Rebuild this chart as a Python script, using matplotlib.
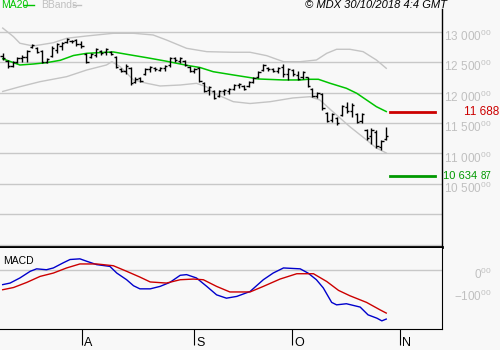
import numpy as np
import matplotlib.pyplot as plt
from matplotlib import rcParams, transforms
from matplotlib.lines import Line2D

rcParams['font.family'] = ['Liberation Sans', 'DejaVu Sans']

# daily bars (index 0 = first visible session)
bar_high = [12650, 12535, 12519, 12584, 12617, 12700, 12798, 12749, 12700, 12568,
            12765, 12815, 12831, 12897, 12864, 12880, 12847, 12650, 12650, 12732,
            12700, 12732, 12683, 12601, 12404, 12469, 12420, 12256, 12256, 12404,
            12437, 12420, 12420, 12453, 12584, 12584, 12584, 12535, 12437, 12404,
            12420, 12174, 12108, 12042, 12042, 12059, 12075, 12141, 12157, 12124,
            12190, 12256, 12354, 12469, 12420, 12404, 12420, 12469, 12404, 12387,
            12354, 12354, 12256, 12075, 12009, 11993, 11681, 11664, 11599, 11796,
            11845, 11829, 11664, 11664, 11401, 11418, 11385, 11221, 11434]
bar_low = [12535, 12404, 12420, 12486, 12502, 12502, 12732, 12650, 12486, 12486,
           12584, 12650, 12700, 12815, 12815, 12765, 12732, 12486, 12568, 12584,
           12617, 12617, 12617, 12404, 12338, 12305, 12124, 12157, 12174, 12289,
           12338, 12354, 12354, 12354, 12420, 12502, 12486, 12437, 12338, 12322,
           12174, 12009, 11960, 11894, 11927, 11960, 11977, 12042, 12075, 12042,
           12092, 12157, 12239, 12354, 12354, 12338, 12322, 12256, 12207, 12272,
           12207, 12223, 12092, 11927, 11911, 11714, 11517, 11517, 11467, 11615,
           11664, 11599, 11500, 11500, 11221, 11155, 11089, 11057, 11221]
bar_open = [12600, 12520, 12440, 12500, 12560, 12590, 12750, 12730, 12680, 12500,
            12600, 12700, 12760, 12830, 12850, 12860, 12800, 12640, 12580, 12620,
            12690, 12660, 12670, 12590, 12390, 12350, 12400, 12180, 12240, 12300,
            12380, 12400, 12370, 12400, 12450, 12560, 12520, 12520, 12420, 12360,
            12400, 12150, 12040, 12030, 11940, 12020, 12030, 12060, 12120, 12110,
            12100, 12180, 12250, 12370, 12410, 12380, 12350, 12420, 12300, 12370,
            12290, 12260, 12250, 12060, 11950, 11980, 11660, 11550, 11580, 11630,
            11760, 11690, 11640, 11530, 11390, 11280, 11360, 11110, 11240]
bar_close = [12560, 12430, 12500, 12560, 12590, 12690, 12780, 12670, 12500, 12550,
             12740, 12800, 12820, 12880, 12840, 12790, 12760, 12500, 12630, 12710,
             12650, 12720, 12640, 12420, 12360, 12440, 12150, 12230, 12190, 12390,
             12420, 12380, 12400, 12440, 12570, 12530, 12570, 12460, 12360, 12390,
             12190, 12030, 12090, 11910, 12020, 12040, 12060, 12130, 12140, 12060,
             12170, 12240, 12340, 12450, 12380, 12360, 12400, 12300, 12390, 12300,
             12230, 12330, 12110, 11950, 11990, 11740, 11540, 11640, 11500, 11780,
             11700, 11800, 11520, 11640, 11260, 11380, 11120, 11200, 11290]

# MA20 and Bollinger bands
ma20_x = [0, 3.5, 6.2, 8.9, 11.7, 14.4, 17.1, 21.1, 22.5, 25.2, 29.3, 33.3, 37.4, 40.1,
          42.8, 46.9, 49.9, 52, 57.1, 60.5, 62.1, 64.2, 66.6, 69.9, 72, 74, 76, 78]
ma20_v = [12555, 12453, 12469, 12491, 12530, 12609, 12645, 12662, 12667, 12629, 12573,
          12515, 12448, 12412, 12343, 12289, 12251, 12223, 12207, 12207, 12218, 12218,
          12152, 12070, 11988, 11878, 11768, 11688]
upper_x = [0, 2.2, 3.5, 6.2, 10.3, 13, 17.1, 22.5, 26.6, 30.6, 33.3, 37.4, 41.5, 46.9,
           50.3, 53.7, 57.1, 60.5, 63.8, 65.9, 67.9, 70.6, 73.3, 76, 78]
upper_v = [13060, 12918, 12810, 12765, 12819, 12892, 12930, 12974, 12974, 12946, 12864,
           12727, 12672, 12662, 12662, 12606, 12507, 12507, 12535, 12645, 12711, 12711,
           12672, 12535, 12399]
lower_x = [0, 3.5, 7.6, 13, 17.1, 21.1, 22.2, 23.9, 26.6, 29.3, 32, 36.1, 39.4, 41.5,
           42.8, 46.9, 50.3, 54.4, 59, 62.5, 64.5, 67.2, 70.6, 74, 76, 78]
lower_v = [12018, 12096, 12179, 12261, 12371, 12453, 12507, 12425, 12207, 12152, 12108,
           12124, 12152, 12092, 11993, 11850, 11820, 11850, 11911, 11932, 11878, 11681,
           11439, 11221, 11089, 11007]

# MACD / signal
macd_x = [0, 1.5, 3.5, 5.6, 6.9, 8.9, 10.3, 12.3, 13.7, 15.7, 17.1, 19.1, 21.8, 23.2,
          25.2, 26.6, 27.9, 30, 32, 34, 36.1, 37.4, 39.4, 41.5, 43.5, 45.5, 47.6, 50.3,
          53, 55, 57.1, 60.5, 62.1, 63.8, 65.2, 66.9, 67.9, 69.9, 72.7, 74.3, 76.1, 77.1, 78]
macd_v = [-66, -59, -36, -6, 5, 1, 9, 32, 47, 50, 39, 24, 16, -14, -44, -71, -85, -85,
          -74, -56, -24, -21, -36, -74, -112, -127, -119, -97, -44, -14, 9, 5, -14, -44,
          -81, -146, -157, -152, -167, -202, -217, -229, -221]
signal_x = [0, 2.2, 4.9, 7.6, 10.3, 13, 15.7, 19.1, 22.5, 25.2, 27.9, 30, 33.3, 36.1,
            38.8, 40.8, 43.5, 46.2, 50.3, 53, 56.4, 59.8, 63.2, 65.9, 68.3, 70.6, 74, 76.7, 78]
signal_v = [-89, -79, -56, -29, -14, 9, 27, 27, 19, -6, -32, -54, -59, -44, -41, -44,
            -74, -99, -99, -74, -41, -17, -17, -52, -92, -116, -146, -179, -194]

month_pos = [16.1, 39.0, 58.9, 80.8]
month_lab = ['A', 'S', 'O', 'N']
price_ticks = [13000, 12500, 12000, 11500, 11000, 10500]
resistance = 11688
support = 10634.87

BG = '#f8f8f8'
GRID = '#c8c8c8'
LABEL = '#c0c0c0'

fig = plt.figure(figsize=(5, 3.5), dpi=100, facecolor=BG)
ax = fig.add_axes([0, 0.29286, 0.8846, 0.68143], facecolor=BG)
ax2 = fig.add_axes([0, 0.05914, 0.8846, 0.23371], facecolor=BG)

xlim = (-0.55, 89.4)
idx = np.arange(len(bar_high))

# price panel
for v in range(9500, 13001, 500):
    ax.axhline(v, color=GRID, lw=1, zorder=0)
ax.plot(upper_x, upper_v, color='#c4c4c4', lw=1)
ax.plot(lower_x, lower_v, color='#c4c4c4', lw=1)
ax.plot(ma20_x, ma20_v, color='#00c400', lw=1.1)
ax.vlines(idx, bar_low, bar_high, color='black', lw=1)
ax.hlines(bar_open, idx - 0.45, idx, color='black', lw=1)
ax.hlines(bar_close, idx, idx + 0.45, color='black', lw=1)
ax.plot([78.75, 87.9], [resistance, resistance], color='#cc0000', lw=2)
ax.plot([78.75, 87.9], [support, support], color='#009900', lw=2)
ax.set_xlim(*xlim)
ax.set_ylim(9454, 13373)
ax.set_xticks([])
ax.set_yticks([])
for s in ['top', 'left']:
    ax.spines[s].set_visible(False)
ax.spines['right'].set_linewidth(1)
ax.spines['bottom'].set_linewidth(2)

trans = transforms.blended_transform_factory(fig.transFigure, ax.transData)
trans_lab = transforms.offset_copy(trans, fig=fig, y=-3.3, units='points')
for v in price_ticks:
    txt = r'$\mathregular{%d\ %03d^{00}}$' % (v // 1000, v % 1000)
    fig.text(0.984, v, txt, transform=trans_lab, ha='right', va='center',
             color=LABEL, fontsize=8.5)
fig.text(0.998, resistance, '11 688', transform=trans, ha='right', va='center',
         color='#cc0000', fontsize=8.5)
fig.text(0.886, support, '10 634', transform=trans, ha='left', va='center',
         color='#009900', fontsize=8)
fig.text(0.962, support, '87', transform=trans, ha='left', va='center',
         color='#009900', fontsize=7)

# macd panel
ax2.axhline(0, color=GRID, lw=1, zorder=0)
ax2.plot(macd_x, macd_v, color='#0000cc', lw=1)
ax2.plot(signal_x, signal_v, color='#cc0000', lw=1)
ax2.set_xlim(*xlim)
ax2.set_ylim(-267, 101)
ax2.set_yticks([])
for s in ['top', 'left']:
    ax2.spines[s].set_visible(False)
ax2.set_xticks(month_pos)
ax2.set_xticklabels([])
ax2.tick_params(axis='x', length=11.5, width=0.8, direction='out')
for p, lab in zip(month_pos, month_lab):
    ax2.annotate(lab, xy=(p, 0), xycoords=('data', 'axes fraction'),
                 xytext=(1.2, -9.8), textcoords='offset points',
                 ha='left', va='center', fontsize=9)
trans2 = transforms.offset_copy(
    transforms.blended_transform_factory(fig.transFigure, ax2.transData),
    fig=fig, y=-3.3, units='points')
for v in [0, -100]:
    fig.text(0.984, v, r'$\mathregular{%d^{00}}$' % v, transform=trans2,
             ha='right', va='center', color=LABEL, fontsize=8.5)
fig.text(0.006, 1 - 260.5 / 350, 'MACD', fontsize=7.5, va='center')

# header
fig.text(0.002, 1 - 5 / 350, 'MA20', color='#00c400', fontsize=7.5, va='center')
fig.add_artist(Line2D([24 / 500, 34 / 500], [1 - 5 / 350] * 2, color='#00c400', lw=1))
fig.text(41 / 500, 1 - 5 / 350, 'BBands', color=LABEL, fontsize=7.5, va='center')
fig.add_artist(Line2D([73 / 500, 81 / 500], [1 - 5 / 350] * 2, color=LABEL, lw=1))
fig.text(447 / 500, 1 - 4.5 / 350, '© MDX 30/10/2018 4:4 GMT', style='italic',
         fontsize=8, ha='right', va='center')

fig.savefig('out.png', dpi=100, facecolor=BG)
